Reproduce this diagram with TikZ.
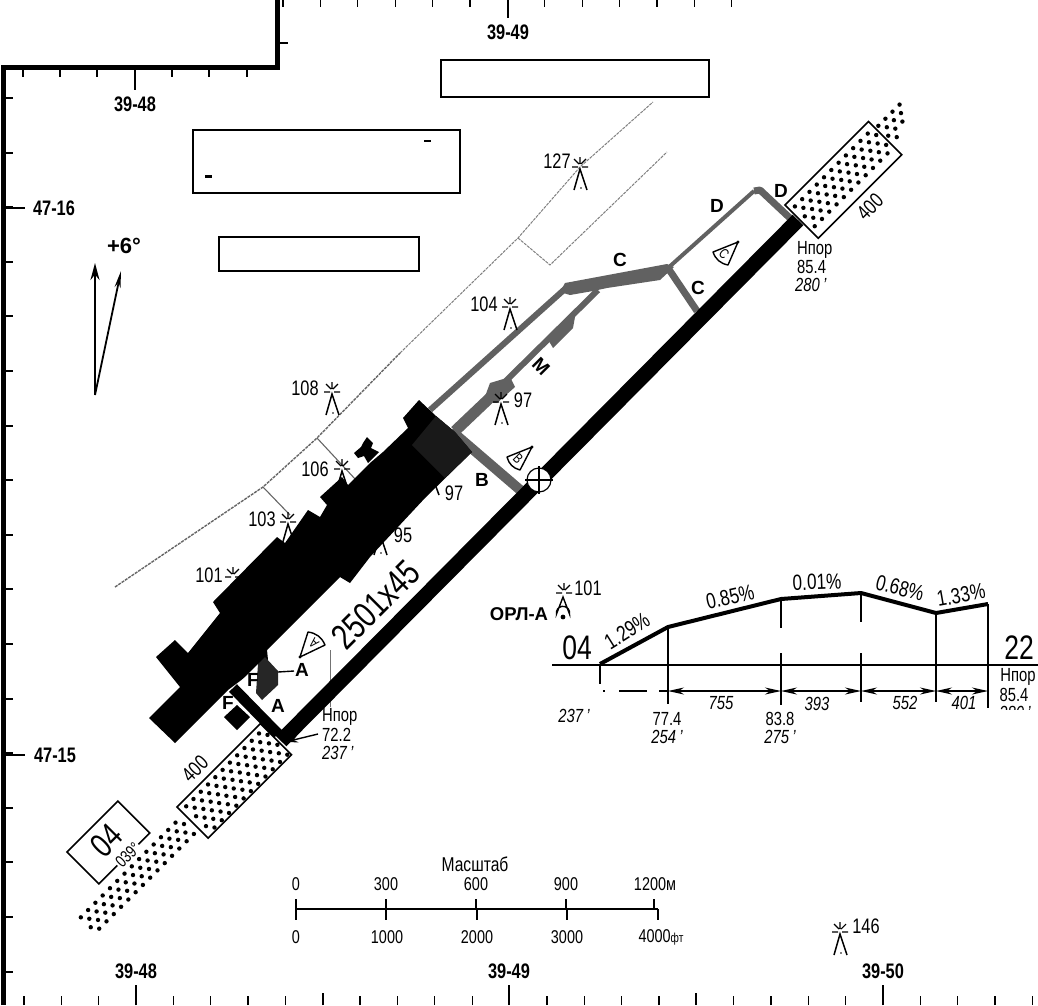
\documentclass[tikz,border=0pt]{standalone}
\usepackage{fontspec}
\setmainfont[FakeStretch=0.78]{Liberation Sans}
\newfontfamily\wideface{Liberation Sans}
\usepackage{xcolor}
\usetikzlibrary{arrows.meta,positioning}
\definecolor{taxigray}{gray}{0.38}
\tikzset{
  gridlbl/.style={font=\fontsize{21}{21}\selectfont\bfseries,inner sep=0pt},
  twylbl/.style={font=\wideface\fontsize{19}{19}\selectfont\bfseries,inner sep=0pt},
  elevlbl/.style={font=\fontsize{21}{21}\selectfont,inner sep=0pt},
  smalllbl/.style={font=\fontsize{19}{19}\selectfont,inner sep=0pt},
  scalelbl/.style={font=\fontsize{18.5}{19}\selectfont,inner sep=0pt},
  smallit/.style={font=\fontsize{19}{19}\selectfont\itshape,inner sep=0pt},
  slopelbl/.style={font=\fontsize{22}{22}\selectfont,inner sep=0pt},
  rwybig/.style={font=\fontsize{36}{36}\selectfont,inner sep=0pt},
  holdlbl/.style={font=\fontsize{14}{14}\selectfont,inner sep=0pt},
  frameline/.style={line width=5pt},
  tick/.style={line width=2pt},
  taxi/.style={draw=taxigray,line width=#1},
  block/.style={draw,line width=1.6pt,fill=white},
  fence/.style={draw=black!50,line width=1pt,dash pattern=on 3pt off 1pt},
  dimline/.style={<->,>={Stealth[length=16pt,width=7pt]},line width=1.3pt},
  holdline/.style={line width=1.4pt,line join=round},
  starmark/.pic={
    \draw[line width=1.1pt] (-8,2)--(-2,2) (2,2)--(8,2) (0,-8)--(0,-1)
      (-6,-6)--(-1,-1) (6,-6)--(1,-1);
  },
  legmark/.pic={
    \draw[line width=1.5pt] (-6,25)--(0,4)--(7,25);
    \fill (1,23) circle (.9);
  },
}
\begin{document}
\begin{tikzpicture}[x=1pt,y=-1pt]
  \useasboundingbox (0,0) rectangle (1038,1005);
  % frame and grid ticks
  \draw[frameline] (3,1005)--(3,67)--(277,67)--(277,0);
  \foreach \k in {0,...,6} \draw[tick] (22.5+37.35*\k,70)--(22.5+37.35*\k,77);
  \draw[tick] (134.5,70)--(134.5,90);
  \foreach \k in {0,...,12} \draw[line width=1.3pt] (283+37.4*\k,0)--(283+37.4*\k,7);
  \draw[line width=1.3pt] (508,0)--(508,18);
  \draw[line width=1.3pt] (277,43)--(288,43);
  \foreach \k in {0,...,16} \draw[tick] (3,98+54.6*\k)--(13,98+54.6*\k);
  \draw[tick] (3,207.5)--(25,207.5) (3,755)--(25,755);
  \foreach \k in {-3,...,24} \draw[line width=1.3pt] (136+37.35*\k,1005)--(136+37.35*\k,996);
  \foreach \x in {136,509,883} \draw[line width=1.3pt] (\x,1005)--(\x,985);
  \foreach \x in {323,696} \draw[line width=1.3pt] (\x,1005)--(\x,993);
  \node[gridlbl] (lon48t) at (135,104) {39-48};
  \node[gridlbl] (lon49t) at (508,32) {39-49};
  \node[gridlbl] (lat16) at (54,208) {47-16};
  \node[gridlbl] (lat15) at (55,755) {47-15};
  \node[gridlbl] (lon48b) at (136,971) {39-48};
  \node[gridlbl] (lon49b) at (509,971) {39-49};
  \node[gridlbl] (lon50b) at (883,971) {39-50};
  % blocks
  \draw[block] (441,60) rectangle (709,97);
  \draw[block] (193,130) rectangle (460,193);
  \draw[block] (219,237) rectangle (419,271);
  \fill (205,175) rectangle (212,178);
  \fill (424,140) rectangle (431,142);
  % magnetic variation
  \coordinate (magBase) at (95,395);
  \coordinate (magTrue) at (95,263);
  \coordinate (magVar) at (121,271);
  \draw[-{Stealth[length=17pt,width=9pt]},line width=1.8pt] (magBase)--(magTrue);
  \draw[-{Stealth[length=17pt,width=6pt]},line width=1.8pt] (magBase)--(magVar);
  \node[font=\wideface\fontsize{22}{22}\selectfont\bfseries,inner sep=0pt] (magLbl) at (124,246) {+6°};
  % fences
  \coordinate (fA) at (263,487);
  \coordinate (fB) at (317,438);
  \coordinate (fC) at (518,238);
  \draw[fence,line width=1.4pt,draw=black!60] (115,587)--(fA)--(fB)--(400,353);
  \draw[fence] (400,353)--(fC)--(580,167)--(653,102);
  \draw[fence] (fC)--(550,265)--(667,152);
  \draw[draw=black!60,line width=1.1pt] (fA)--(290,515) (fB)--(356,480);
  \draw[draw=black!55,line width=.6pt] (330,650)--(330,707);
  % taxiways
  \coordinate (cSplit) at (668,268);
  \coordinate (dBend) at (754,191);
  \coordinate (dEnd) at (792,220);
  \draw[taxi=6pt] (430,410)--(566,288);
  \draw[taxi=6pt] (450,436)--(598,290);
  \draw[taxi=11pt] (455,431)--(495,393);
  \draw[taxi=4pt] (cSplit)--(dBend);
  \draw[taxi=7pt,line join=round] (dBend)--(760,190)--(dEnd);
  \draw[taxi=7pt] (cSplit)--(697,311);
  \draw[taxi=10pt] (455,434)--(526,495);
  \fill[taxigray] (565,283)--(667,264)--(674,267)--(660,280)--(607,288)--(593,291)--(570,295)--(560,292)--cycle;
  \fill[taxigray] (547,338)--(567,317)--(575,317)--(573,328)--(553,348)--cycle;
  \fill[taxigray] (490,383)--(510,377)--(515,387)--(497,403)--(483,402)--cycle;
  % apron
  \fill (419,400)--(436,416)--(455,432)--(472,452)--(425,498)--(370,557)--(350,583)--(340,577)
    --(267,650)--(268,660)--(228,690)--(175,743)--(149,718)--(180,687)--(156,657)--(175,640)--(188,653)
    --(220,613)--(213,602)--(277,537)--(285,543)--(308,510)--(320,517)--(327,505)--(320,497)
    --(342,477)--(348,485)--(370,463)--(383,452)--(408,428)--(403,418)--cycle;
  \fill (367,437)--(373,443)--(371,448)--(379,452)--(368,463)--(364,456)--(358,458)--(354,453)--(361,447)--(363,443)--cycle;
  \fill[black!90] (436,416)--(455,432)--(472,452)--(445,478)--(412,445)--cycle;
  % taxiway F and A
  \fill[white] (242,680)--(258,664)--(258,692)--(250,688)--cycle;
  \fill[black!85] (265,657)--(278,671)--(278,685)--(262,700)--(256,693)--(258,664)--cycle;
  \draw[line width=11pt] (233,688)--(278,734);
  \fill (237,705)--(250,717)--(237,730)--(224,717)--cycle;
  % stopway and approach lights 04
  \begin{scope}[shift={(177,807)},rotate=45]
    \draw[block] (0,0) rectangle (118,44);
    \foreach \i in {0,...,10} \foreach \v/\off in {6/0,13/5,20/0,27/5,34/0,41/5}
      \fill (7+10.3*\i+\off,\v) circle (2.2);
    \foreach \i in {0,...,13} \foreach \v/\off in {10/0,17/5,24/0,31/5}
      \fill (-146+10.3*\i+\off,\v) circle (2.2);
  \end{scope}
  % stopway and approach lights 22
  \begin{scope}[shift={(785,205)},rotate=45]
    \draw[block] (0,0) rectangle (118,47);
    \foreach \i in {0,...,10} \foreach \v/\off in {8/0,15/5,22/0,29/5,36/0}
      \fill (6+10.3*\i+\off,\v) circle (2.2);
    \foreach \u/\v in {122/10,132/10,142/10,152/10,127/17,137/17,147/17,122/24,132/24,142/24,127/31}
      \fill (\u,\v) circle (2.2);
  \end{scope}
  % runway
  \coordinate (rwyS) at (281,741);
  \coordinate (rwyN) at (798,220);
  \draw[line width=15pt] (rwyS)--(rwyN);
  \node[draw,circle,fill=white,line width=1.2pt,minimum size=24pt,inner sep=0pt] (cross) at (539,480) {};
  \draw[line width=1.2pt] (525,480)--(553,480) (539,466)--(539,494);
  \node[rwybig,rotate=45] (rwySize) at (376,605) {2501x45};
  \node[elevlbl,rotate=45] (len04) at (195,769) {400};
  \node[elevlbl,rotate=45] (len22) at (870,207) {400};
  % runway number box
  \begin{scope}[shift={(67,852)},rotate=45]
    \draw[line width=1.6pt] (0,0) rectangle (72,45);
    \node[font=\fontsize{34}{34}\selectfont,inner sep=0pt,rotate=45] (num04) at (36,20) {04};
    \node[font=\fontsize{17}{17}\selectfont,inner sep=1pt,fill=white,rotate=45] (hdg04) at (41,45) {039°};
  \end{scope}
  % taxiway letters
  \node[twylbl] (lblC1) at (620,260) {C};
  \node[twylbl] (lblC2) at (698,288) {C};
  \node[twylbl] (lblD1) at (717,206) {D};
  \node[twylbl] (lblD2) at (781,191) {D};
  \node[twylbl,rotate=-45] (lblM) at (541,366) {M};
  \node[twylbl] (lblB) at (482,480) {B};
  \node[twylbl] (lblF1) at (228,703) {F};
  \node[twylbl] (lblF2) at (253,680) {F};
  \node[twylbl] (lblA1) at (278,706) {A};
  \node[twylbl] (lblA2) at (302,670) {A};
  \draw[line width=1.4pt] (lblA2)++(-8,1)--(278,672);
  % holding markers
  \draw[holdline] (300,657)--(308,632) to[bend left=30] (325,645)--cycle;
  \fill (300,657) circle (1.7);
  \node[holdlbl,rotate=135] (hldA) at (314,643) {A};
  \draw[holdline] (532,447)--(507,457) to[bend right=30] (520,470)--cycle;
  \fill (532,447) circle (1.7);
  \node[holdlbl,rotate=-45] (hldB) at (518,459) {B};
  \draw[holdline] (738,242)--(713,252) to[bend right=30] (728,265)--cycle;
  \fill (738,242) circle (1.7);
  \node[holdlbl,rotate=-45] (hldC) at (724,254) {C};
  % obstacles
  \pic at (580,165) {starmark}; \pic at (580,165) {legmark};
  \node[elevlbl] (el127) at (557,161) {127};
  \pic at (510,305) {starmark}; \pic at (510,305) {legmark};
  \node[elevlbl] (el104) at (484,304) {104};
  \pic at (332,390) {starmark}; \pic at (332,390) {legmark};
  \node[elevlbl] (el108) at (305,388) {108};
  \pic at (342,467) {starmark}; \pic at (342,467) {legmark};
  \node[elevlbl] (el106) at (315,469) {106};
  \pic at (288,520) {starmark}; \pic at (288,520) {legmark};
  \node[elevlbl] (el103) at (262,519) {103};
  \pic at (233,575) {starmark};
  \node[elevlbl] (el101) at (209,575) {101};
  \pic at (501,400) {starmark}; \pic at (501,400) {legmark};
  \node[elevlbl] (el97a) at (523,400) {97};
  \pic at (380,530) {legmark};
  \node[elevlbl] (el95) at (403,535) {95};
  \draw[line width=1.5pt] (435,484)--(439,495);
  \node[elevlbl] (el97b) at (454,493) {97};
  \pic at (840,930) {starmark}; \pic at (840,930) {legmark};
  \node[elevlbl] (el146) at (866,926) {146};
  % threshold 04
  \node[smalllbl,anchor=west] (hn04) at (322,717) {Нпор};
  \node[smalllbl,anchor=west] (el04) at (322,735) {72.2};
  \node[smallit,anchor=west] (ft04) at (322,753) {237\,'};
  \draw[-{Stealth[length=13pt,width=7pt]},line width=1.4pt] (el04.west)++(-4,-1)--(285,742);
  % threshold 22
  \node[smalllbl,anchor=west] (hn22) at (797,250) {Нпор};
  \node[smalllbl,anchor=west] (el22) at (797,267) {85.4};
  \node[smallit,anchor=west] (ft22) at (795,285) {280\,'};
  % aerodrome reference
  \node[font=\wideface\fontsize{18.5}{19}\selectfont\bfseries,inner sep=0pt] (orl) at (519,614) {ОРЛ-А};
  \pic at (564,591) {starmark};
  \node[elevlbl] (elOrl) at (588,588) {101};
  \draw[line width=1.4pt] (563,597)--(556.5,614) arc[start angle=170,end angle=370,radius=6.6]--cycle;
  \fill (563,617) circle (2.4);
  % profile
  \coordinate (p0) at (600,664);
  \coordinate (p1) at (668,627);
  \coordinate (p2) at (781,599);
  \coordinate (p3) at (861,593);
  \coordinate (p4) at (936,613);
  \coordinate (p5) at (988,604);
  \draw[line width=4pt,line join=round] (p0)--(p1)--(p2)--(p3)--(p4)--(p5);
  \draw[line width=1.4pt] (552,665)--(1038,665);
  \draw[line width=1.2pt] (p0)--(600,684) (p1)--(668,704)
    (p2)--(781,628) (781,653)--(781,705)
    (p3)--(861,622) (861,653)--(861,702)
    (p4)--(936,702) (p5)--(988,708);
  \coordinate (d1) at (668,691);
  \coordinate (d2) at (781,691);
  \coordinate (d3) at (861,691);
  \coordinate (d4) at (936,691);
  \coordinate (d5) at (988,691);
  \foreach \a/\b in {d1/d2,d2/d3,d3/d4,d4/d5} \draw[dimline] (\a)--(\b);
  \draw[line width=1.2pt] (603,691)--(605,691) (619,691)--(647,691) (659,691)--(d1);
  \node[font=\fontsize{34}{34}\selectfont,inner sep=0pt] (prof04) at (577,648) {04};
  \node[font=\fontsize{34}{34}\selectfont,inner sep=0pt] (prof22) at (1019,648) {22};
  \node[slopelbl,rotate=32] (sl1) at (627,631) {1.29\%};
  \node[slopelbl,rotate=13] (sl2) at (730,597) {0.85\%};
  \node[slopelbl,rotate=2] (sl3) at (817,582) {0.01\%};
  \node[slopelbl,rotate=-14] (sl4) at (900,588) {0.68\%};
  \node[slopelbl,rotate=10] (sl5) at (961,595) {1.33\%};
  \node[smallit] (dim755) at (721,703) {755};
  \node[smallit] (dim393) at (817,704) {393};
  \node[smallit] (dim552) at (905,703) {552};
  \node[smallit] (dim401) at (964,703) {401};
  \node[smallit] (pf237) at (574,716) {237\,'};
  \node[smalllbl] (pf77) at (667,719) {77.4};
  \node[smallit] (pf254) at (667,737) {254\,'};
  \node[smalllbl] (pf83) at (780,719) {83.8};
  \node[smallit] (pf275) at (780,737) {275\,'};
  \node[smalllbl] (pfHn) at (1018,677) {Нпор};
  \node[smalllbl] (pf85) at (1014,695) {85.4};
  \begin{scope}
    \clip (995,704) rectangle (1038,709);
    \node[smallit] (pf280) at (1015,713) {280\,'};
  \end{scope}
  % scale bar
  \node[font=\fontsize{20}{20}\selectfont,inner sep=0pt] (scaleTtl) at (475,864) {Масштаб};
  \draw[line width=1.4pt] (296,909)--(658,909);
  \draw[line width=1.2pt] (296,899)--(296,920);
  \foreach \x in {386,476,566,654} \draw[line width=1.2pt] (\x,899)--(\x,909);
  \foreach \x in {386,477,567,658} \draw[line width=1.2pt] (\x,909)--(\x,920);
  \node[scalelbl] (m0) at (296,884) {0};
  \node[scalelbl] (m300) at (386,884) {300};
  \node[scalelbl] (m600) at (476,884) {600};
  \node[scalelbl] (m900) at (566,884) {900};
  \node[scalelbl] (m1200) at (655,884) {1200м};
  \node[scalelbl] (f0) at (296,937) {0};
  \node[scalelbl] (f1000) at (387,937) {1000};
  \node[scalelbl] (f2000) at (477,937) {2000};
  \node[scalelbl] (f3000) at (567,937) {3000};
  \node[scalelbl] (f4000) at (661,937) {4000{\fontsize{13}{13}\selectfont фт}};
\end{tikzpicture}
\end{document}
